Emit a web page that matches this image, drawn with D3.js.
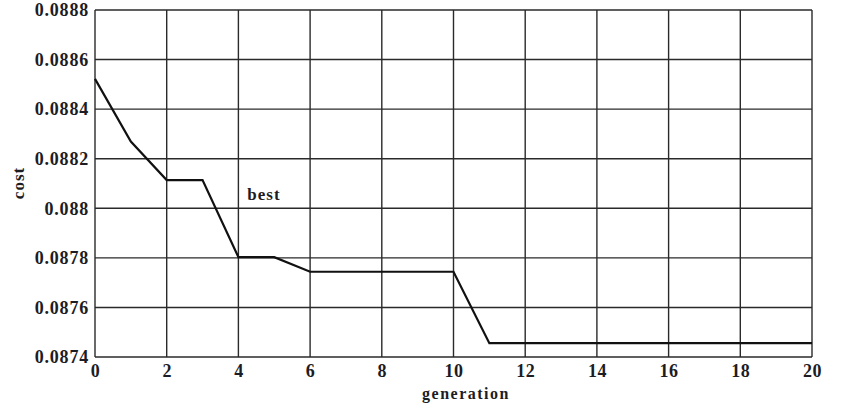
<!DOCTYPE html>
<html>
<head>
<meta charset="utf-8">
<script src="https://cdn.jsdelivr.net/npm/d3@7"></script>
<style>
    body { margin: 0; background: #fff; }
    text { font-family: "Liberation Serif", "DejaVu Serif", serif; font-weight: bold; fill: #1c1c24; }
</style>
</head>
<body>
<svg id="chart"></svg>
<script>
// generations and best cost per generation
const generations = [0, 1, 2, 3, 4, 5, 6, 7, 8, 9, 10, 11, 12, 13, 14, 15, 16, 17, 18, 19, 20];
const bestCost = [0.088522, 0.088269, 0.088114, 0.088114, 0.087803, 0.087803, 0.087744, 0.087744,
    0.087744, 0.087744, 0.087744, 0.087456, 0.087456, 0.087456, 0.087456, 0.087456, 0.087456,
    0.087456, 0.087456, 0.087456, 0.087456];
const xTicks = [0, 2, 4, 6, 8, 10, 12, 14, 16, 18, 20];
const yTicks = [0.0874, 0.0876, 0.0878, 0.088, 0.0882, 0.0884, 0.0886, 0.0888];

const width = 849, height = 408;
const margin = { top: 10, right: 37, bottom: 51, left: 95 };

const svg = d3.select('#chart')
    .attr('width', width)
    .attr('height', height);

const x = d3.scaleLinear()
    .domain([0, 20])
    .range([margin.left, width - margin.right]);
const y = d3.scaleLinear()
    .domain([0.0874, 0.0888])
    .range([height - margin.bottom, margin.top]);

// grid
svg.append('g')
    .selectAll('line.vgrid')
    .data(xTicks)
    .join('line')
    .attr('class', 'vgrid')
    .attr('x1', d => x(d)).attr('x2', d => x(d))
    .attr('y1', y.range()[1]).attr('y2', y.range()[0])
    .attr('stroke', '#2a2a2a').attr('stroke-width', 1.4);
svg.append('g')
    .selectAll('line.hgrid')
    .data(yTicks)
    .join('line')
    .attr('class', 'hgrid')
    .attr('x1', x.range()[0]).attr('x2', x.range()[1])
    .attr('y1', d => y(d)).attr('y2', d => y(d))
    .attr('stroke', '#2a2a2a').attr('stroke-width', 1.4);

// axes (labels only, the grid draws the frame)
const xAxis = svg.append('g')
    .attr('transform', `translate(0,${height - margin.bottom})`)
    .call(d3.axisBottom(x).tickValues(xTicks).tickSize(0).tickPadding(7).tickFormat(d3.format('d')));
xAxis.select('.domain').remove();
xAxis.selectAll('text')
    .attr('font-size', 18)
    .attr('font-family', null)
    .style('letter-spacing', '0.5px');

const yAxis = svg.append('g')
    .attr('transform', `translate(${margin.left},0)`)
    .call(d3.axisLeft(y).tickValues(yTicks).tickSize(0).tickPadding(6).tickFormat(d => +d.toFixed(4)));
yAxis.select('.domain').remove();
yAxis.selectAll('text')
    .attr('font-size', 18)
    .attr('font-family', null)
    .style('letter-spacing', '0.8px');

// curve
const line = d3.line()
    .x((d, i) => x(generations[i]))
    .y(d => y(d));

svg.append('path')
    .datum(bestCost)
    .attr('d', line)
    .attr('fill', 'none')
    .attr('stroke', '#111')
    .attr('stroke-width', 2.2);

// labels
svg.append('text')
    .attr('x', x(4.25))
    .attr('y', y(0.08803) - 1)
    .attr('font-size', 17)
    .style('letter-spacing', '1px')
    .text('best');

svg.append('text')
    .attr('x', 466)
    .attr('y', 399)
    .attr('text-anchor', 'middle')
    .attr('font-size', 16)
    .style('letter-spacing', '1.5px')
    .text('generation');

svg.append('text')
    .attr('transform', 'translate(24,183) rotate(-90)')
    .attr('text-anchor', 'middle')
    .attr('font-size', 17)
    .style('letter-spacing', '1px')
    .text('cost');
</script>
</body>
</html>
